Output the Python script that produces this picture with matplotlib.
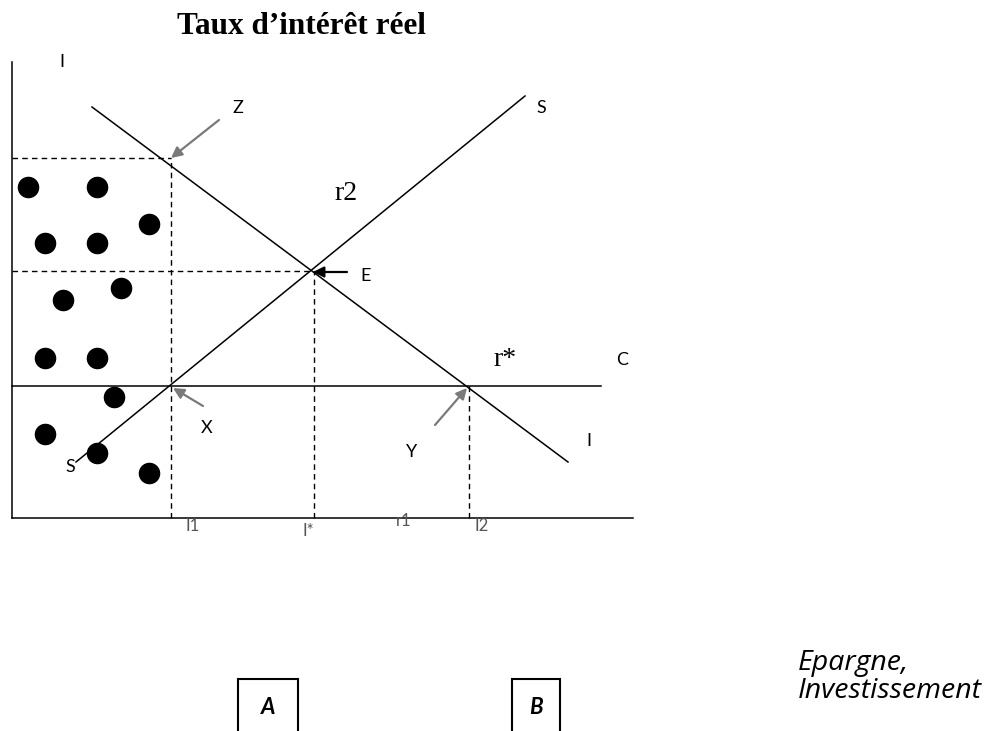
import matplotlib
matplotlib.use("Agg")
import matplotlib.pyplot as plt
from matplotlib.patches import Rectangle

# diagram units: origin at the corner of the axes, 1 unit ~ 1 px

# curves
invest_x = [80, 556]
invest_y = [411, 56]
saving_x = [64, 513]
saving_y = [56, 422]
c_level = 132
c_end = 589

# guide lines (dashed)
z_level, e_level = 360, 247
i1, i_star, i2 = 159, 302, 457

# dots
dots_x = [16, 85, 137, 33, 85, 109, 51, 33, 85, 102, 33, 85, 137]
dots_y = [331, 331, 294, 275, 275, 230, 218, 160, 160, 121, 84, 65, 45]

# pointer arrows: (label, tail, head)
arrows = [
    ("Z", (207, 398), (159, 360)),
    ("E", (335, 246), (301, 246)),
    ("X", (191, 112), (161, 130)),
    ("Y", (423, 93), (455, 130)),
]

# letter labels
labels = [
    ("I", 50, 456), ("Z", 226, 410), ("S", 529, 410), ("E", 354, 242),
    ("C", 610, 158), ("X", 195, 90), ("Y", 400, 66), ("I", 577, 77),
    ("S", 58, 51),
]
serif_labels = [("r2", 322, 324), ("r*", 481, 158)]
axis_labels = [("I1", 181, -8), ("I*", 296, -13), ("r1", 392, -3), ("I2", 470, -8)]

fig = plt.figure(figsize=(9.92, 7.31), dpi=100)
ax = fig.add_axes([0, 0, 1, 1])
ax.set_xlim(-12, 980)
ax.set_ylim(-213, 518)
ax.axis("off")

lw = 1.1
# axes
ax.plot([0, 0], [0, 456], color="black", lw=lw)
ax.plot([0, 621], [0, 0], color="black", lw=lw)

# curves
ax.plot(invest_x, invest_y, color="black", lw=lw)
ax.plot(saving_x, saving_y, color="black", lw=lw)
ax.plot([0, c_end], [c_level, c_level], color="black", lw=lw)

# dashed guides
dash = dict(color="black", lw=1.0, ls=(0, (4, 3)))
ax.plot([0, i1], [z_level, z_level], **dash)
ax.plot([0, i_star], [e_level, e_level], **dash)
ax.plot([i1, i1], [0, z_level], **dash)
ax.plot([i_star, i_star], [0, e_level], **dash)
ax.plot([i2, i2], [0, c_level], **dash)

# dots
ax.plot(dots_x, dots_y, "o", color="black", ms=14.5)

# arrows
for name, tail, head in arrows:
    col = "black" if name == "E" else "#7a7a7a"
    ax.annotate("", xy=head, xytext=tail,
                arrowprops=dict(arrowstyle="-|>", color=col, lw=1.6,
                                mutation_scale=16, shrinkA=0, shrinkB=0))

for txt, x, y in labels:
    ax.text(x, y, txt, fontsize=13, family="Lato", ha="center", va="center")
for txt, x, y in serif_labels:
    ax.text(x, y, txt, fontsize=20, family="Liberation Serif", ha="left", va="center")
for txt, x, y in axis_labels:
    ax.text(x, y, txt, fontsize=12, family="Lato", color="#555555",
            ha="center", va="center")

ax.text(289, 491, "Taux d\u2019intérêt réel", fontsize=22.5, family="Liberation Serif",
        fontweight="bold", ha="center", va="center")

# boxes A and B
for name, x0, w in [("A", 226, 60), ("B", 500, 48)]:
    ax.add_patch(Rectangle((x0, -230), w, 230 - 161, fill=False, ec="black", lw=1.5))
    ax.text(x0 + w / 2, -190, name, fontsize=16, family="Lato", fontweight="bold",
            style="italic", ha="center", va="center")

ax.text(786, -152, "Epargne,", fontsize=20.5, family="Open Sans", style="italic",
        ha="left", va="baseline")
ax.text(786, -180, "Investissement", fontsize=20.5, family="Open Sans", style="italic",
        ha="left", va="baseline")

fig.savefig("out.png", dpi=100)
